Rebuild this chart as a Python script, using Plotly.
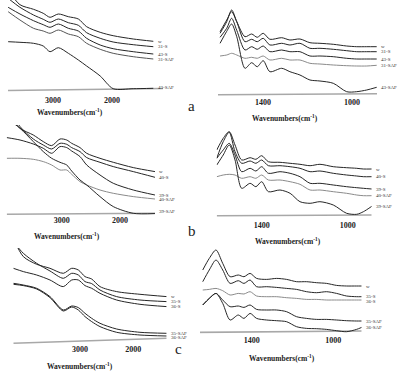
import plotly.graph_objects as go

W, H = 400, 373

# ---------------- data ----------------
# heights are in arbitrary absorbance units above each panel's baseline

# Panel a, C-H region
wn_a1 = [3760, 3560, 3330, 3165, 3050, 2910, 2740, 2570, 2430, 2200, 1980, 1640, 1300]
a1_w      = [100, 85.3, 80.7, 76.7, 72.7, 76, 73.3, 71, 63.3, 57.7, 54.3, 51, 48.7]
a1_31S    = [91.7, 82.7, 75, 70.7, 67.7, 71, 67.3, 64.7, 57.3, 51.7, 48, 45.3, 43.3]
a1_43S    = [82.7, 76, 69.3, 65.3, 62.7, 66, 61.7, 59, 51.7, 45, 41.3, 38.3, 36]
a1_31SAF  = [78.3, 70, 61.7, 59, 56.7, 60, 56, 53.3, 46.7, 40.7, 36.7, 33.3, 31]
a1_43SAF  = [48.3, 47.7, 46.7, 44, 38.3, 42.3, 36.7, 30, 24, 14, 1.3, 1.3, 1.7]
a1_base   = [-0.5, 1.5]

# Panel a, fingerprint region
wn_a2 = [1593, 1563, 1541, 1518, 1481, 1451, 1426, 1399, 1369, 1316, 1279, 1234, 1189, 1144, 1084, 1024, 979, 934, 889]
a2_w      = [62.6, 74.3, 82.6, 72.6, 57.6, 60.3, 57, 61, 55, 56.6, 54.3, 55.3, 51.6, 51, 50, 48.3, 47.6, 47.6, 47.6]
a2_31S    = [61, 72.6, 84.3, 72.6, 52.6, 55, 52.6, 56, 49.3, 51, 49.3, 51, 46, 46, 45, 43.6, 42.6, 42.6, 42.6]
a2_43S    = [57, 66, 76, 64, 44.3, 47.6, 45, 48.3, 42.6, 44.3, 42.6, 42.6, 38.3, 38.3, 37.6, 36, 35.3, 35.3, 35.3]
a2_31SAF  = [38.3, 39.3, 41, 39.3, 36, 37, 36, 38.3, 34.3, 36, 34.3, 34.3, 31, 30.3, 29.3, 28.6, 28.3, 28.3, 29]
a2_43SAF  = [51, 63, 70.3, 57.6, 26, 31.6, 27.6, 33.6, 22.6, 26, 22.6, 19.3, 14.3, 13.3, 11, 2.6, 2.6, 4.3, 7]
a2_base   = [-0.5, 0.5]

# Panel b, C-H region
wn_b1 = [3943, 3715, 3487, 3316, 3172, 3029, 2914, 2829, 2686, 2571, 2343, 2115, 1772, 1400]
b1_w      = [102.7, 86, 79.3, 72.7, 68.7, 75.3, 74.3, 71, 66.7, 61, 56, 52, 46.7, 42.7]
b1_40S    = [109, 87.7, 75.3, 69.3, 65.3, 71, 70, 66.7, 62.7, 56.7, 52, 47.7, 42.7, 37]
b1_39S    = [76.7, 74.3, 70.3, 66, 61, 67.7, 66.7, 63.3, 57.7, 49.3, 39.3, 31, 24.3, 19.3]
b1_40SAF  = [56, 56, 55, 52.7, 49.3, 44.3, 44.3, 40, 32.7, 29.3, 24.3, 21, 17.7, 15.3]
b1_39SAF  = [96, 86, 72.7, 62.7, 56, 52, 49.3, 43.3, 34.3, 29.3, 17.7, 7.7, 1, 0.7]
b1_base   = [0, 1]

# Panel b, fingerprint region
wn_b2 = [1609, 1579, 1551, 1524, 1493, 1454, 1427, 1400, 1369, 1315, 1268, 1222, 1175, 1129, 1067, 1005, 958, 927, 888]
b2_w      = [65, 76.7, 83.3, 70, 55, 57.3, 55.7, 59.3, 53.3, 52.7, 51.7, 50.7, 49.3, 50.7, 48.3, 47.3, 46.7, 46, 46]
b2_40S    = [56.7, 73.3, 82.7, 63.3, 51.7, 54, 51.7, 55, 49.3, 49.3, 48.3, 46.7, 43.3, 44, 41.7, 40, 39, 38.3, 38.3]
b2_39S    = [56.7, 65, 71.7, 60, 43.3, 46.7, 44, 48.3, 41.7, 43.3, 41.7, 38.3, 31.7, 31.7, 30, 28.3, 27.3, 26.7, 26]
b2_40SAF  = [38.3, 40, 40.7, 40, 36.7, 38.3, 36.7, 40, 35, 35, 33.3, 30.7, 25, 25, 23.3, 21.7, 20, 19.3, 19.3]
b2_39SAF  = [50, 60, 70, 55, 26.7, 31.7, 28.3, 33.3, 23.3, 25, 21.7, 13.3, 11.7, 13.3, 10, 1.7, 0.7, 3.3, 8.7]
b2_base   = [-0.7, 0]

# Panel c, C-H region
wn_c1 = [4250, 4063, 3813, 3563, 3313, 3156, 3031, 2906, 2781, 2625, 2313, 1875, 1375]
c1_w      = [105, 86.7, 79, 75, 70, 75, 73.3, 66.7, 64.3, 56.7, 51.7, 49, 46.7]
c1_35S    = [101.7, 90, 80, 72.3, 65, 70, 68.3, 61.7, 59.7, 53.3, 46.7, 43.3, 41.7]
c1_36S    = [75, 71.7, 68.3, 63.3, 56.7, 63.3, 63.3, 57.7, 55, 50, 43.3, 39, 36.7]
c1_35SAF  = [60, 58.3, 55, 46.7, 33.3, 37.3, 35.7, 30, 25, 20, 14.3, 11, 10]
c1_36SAF  = [59, 57.7, 54.3, 45.7, 32.3, 36.3, 33.3, 26.7, 21.7, 16.7, 11, 8.3, 7.3]
c1_base   = [0, 5]

# Panel c, fingerprint region
wn_c2 = [1640, 1608, 1575, 1542, 1506, 1466, 1438, 1408, 1376, 1327, 1278, 1229, 1180, 1131, 1082, 1033, 984, 935, 886, 861]
c2_w      = [61.7, 73.3, 81.7, 68.3, 55, 56.7, 55, 58.3, 53.3, 52.3, 53.3, 52.3, 50, 50, 49, 48.3, 46.3, 45.7, 45.7, 45.7]
c2_35S    = [50, 61.7, 71.7, 61.7, 48.3, 51, 48.3, 51.7, 45, 45, 44.3, 43.3, 42.3, 40, 39, 40, 38.3, 35.7, 35, 35]
c2_36S    = [41.7, 42.3, 43.3, 41, 36.7, 38.3, 37.7, 40, 35.7, 35, 35, 34, 33.3, 32.3, 32.3, 31.7, 31.7, 31.7, 31.7, 31.7]
c2_35SAF  = [26.7, 33.3, 38.3, 31.7, 25, 25.7, 24.3, 26.7, 22.3, 21.7, 21.7, 20, 15, 13.3, 12.3, 12.3, 11.7, 11, 10.7, 10.7]
c2_36SAF  = [26.7, 33.3, 38.3, 28.3, 11.7, 16.7, 13.3, 18.3, 13.3, 11.7, 11, 10, 5, 3.3, 3, 2.3, 1, 0, 2.3, 4.3]
c2_base   = [-0.7, 0.7]

ticks_ch = [3000, 2000]
ticks_fp = [1400, 1000]
xtitle = "Wavenumbers(cm<sup>-1</sup>)"

DARK = "#262626"
GRAY = "#8a8a8a"

# ---------------- panel layout (pixel geometry) ----------------
panels = [
    dict(wn=wn_a1, curves=[("w", a1_w, DARK), ("31-S", a1_31S, DARK), ("43-S", a1_43S, DARK),
                           ("31-SAF", a1_31SAF, "#555"), ("43-SAF", a1_43SAF, DARK)],
         base=a1_base, ticks=ticks_ch, tpx=(53, 112), xpx=(8, 163), base_py=90, top_py=0,
         tick_py=100, title=(70, 112)),
    dict(wn=wn_a2, curves=[("w", a2_w, DARK), ("31-S", a2_31S, DARK), ("43-S", a2_43S, DARK),
                           ("31-SAF", a2_31SAF, GRAY), ("43-SAF", a2_43SAF, DARK)],
         base=a2_base, ticks=ticks_fp, tpx=(263, 352), xpx=(218, 377), base_py=94.3, top_py=0,
         tick_py=102, title=(285, 118)),
    dict(wn=wn_b1, curves=[("w", b1_w, DARK), ("40-S", b1_40S, DARK), ("39-S", b1_39S, DARK),
                           ("40-SAF", b1_40SAF, GRAY), ("39-SAF", b1_39SAF, DARK)],
         base=b1_base, ticks=ticks_ch, tpx=(61.7, 120), xpx=(6.7, 155), base_py=214.3, top_py=125,
         tick_py=220, title=(67, 236)),
    dict(wn=wn_b2, curves=[("w", b2_w, DARK), ("40-S", b2_40S, DARK), ("39-S", b2_39S, DARK),
                           ("40-SAF", b2_40SAF, GRAY), ("39-SAF", b2_39SAF, DARK)],
         base=b2_base, ticks=ticks_fp, tpx=(261.7, 347.7), xpx=(216.7, 371.7), base_py=215, top_py=125,
         tick_py=225.5, title=(288, 241)),
    dict(wn=wn_c1, curves=[("w", c1_w, DARK), ("35-S", c1_35S, DARK), ("36-S", c1_36S, DARK),
                           ("35-SAF", c1_35SAF, DARK), ("36-SAF", c1_36SAF, DARK)],
         base=c1_base, ticks=ticks_ch, tpx=(80, 133.3), xpx=(13.3, 166.7), base_py=343.3, top_py=248,
         tick_py=349.5, title=(80, 366)),
    dict(wn=wn_c2, curves=[("w", c2_w, DARK), ("35-S", c2_35S, DARK), ("36-S", c2_36S, GRAY),
                           ("35-SAF", c2_35SAF, DARK), ("36-SAF", c2_36SAF, DARK)],
         base=c2_base, ticks=ticks_fp, tpx=(251.7, 333.3), xpx=(200, 361.7), base_py=331.7, top_py=248,
         tick_py=340, title=(282, 358)),
]

letters = [("a", 191, 106), ("b", 192, 231), ("c", 178, 349)]

fig = go.Figure()
annotations = []
PAD = 2          # room below baseline (data units == px)
LABEL_GAP = 4.5  # min vertical spacing of curve labels (px)

for i, p in enumerate(panels, start=1):
    xa = "x" if i == 1 else f"x{i}"
    ya = "y" if i == 1 else f"y{i}"
    (t1, t2), (p1, p2) = p["ticks"], p["tpx"]
    s = (t2 - t1) / (p2 - p1)
    xl, xr = p["xpx"]
    r0 = t1 + (xl - p1) * s
    r1 = t1 + (xr - p1) * s
    top_h = p["base_py"] - p["top_py"]

    fig.add_trace(go.Scatter(x=[r0, r1], y=p["base"], mode="lines",
                             line=dict(color="#a8a8a8", width=1.6),
                             xaxis=xa, yaxis=ya, showlegend=False, hoverinfo="skip"))
    lab = []
    for name, vals, col in p["curves"]:
        fig.add_trace(go.Scatter(x=p["wn"], y=vals, mode="lines", name=name,
                                 line=dict(color=col, width=1.0, shape="spline", smoothing=0.8),
                                 xaxis=xa, yaxis=ya, showlegend=False))
        end_px = xl + (p["wn"][-1] - r0) / (r1 - r0) * (xr - xl)
        lab.append([name, end_px + 2.5, max(vals[-1], 3)])
    # keep labels from overlapping (heights descend top->bottom)
    lab.sort(key=lambda t: -t[2])
    for k in range(1, len(lab)):
        if lab[k - 1][2] - lab[k][2] < LABEL_GAP:
            lab[k][2] = lab[k - 1][2] - LABEL_GAP
    for name, lx, ly in lab:
        annotations.append(dict(x=lx / W, xref="paper", y=ly, yref=ya,
                                text=name, showarrow=False, xanchor="left", yanchor="middle",
                                font=dict(family="Liberation Serif", size=5, color="#333")))

    dom_x = [xl / W, xr / W]
    dom_y = [1 - (p["base_py"] + PAD) / H, 1 - p["top_py"] / H]
    fig.update_layout({
        ("xaxis" if i == 1 else f"xaxis{i}"): dict(
            domain=dom_x, range=[r0, r1], anchor="free", position=1 - (p["tick_py"] - 8) / H,
            showgrid=False, zeroline=False,
            showline=False, tickvals=p["ticks"], ticktext=[str(t) for t in p["ticks"]],
            ticks="outside", ticklen=0, tickcolor="rgba(0,0,0,0)",
            tickfont=dict(family="Liberation Serif", size=8, color="#222", weight="bold")),
        ("yaxis" if i == 1 else f"yaxis{i}"): dict(
            domain=dom_y, range=[-PAD, top_h], anchor=xa, visible=False, fixedrange=True),
    })
    tx, ty = p["title"]
    annotations.append(dict(x=tx / W, y=1 - ty / H, xref="paper", yref="paper", text=xtitle,
                            showarrow=False, xanchor="center", yanchor="middle",
                            font=dict(family="Liberation Serif", size=7.5, color="#222", weight="bold")))

for t, x, y in letters:
    annotations.append(dict(x=x / W, y=1 - y / H, xref="paper", yref="paper", text=t,
                            showarrow=False, xanchor="center", yanchor="middle",
                            font=dict(family="Liberation Serif", size=15, color="#222")))

fig.update_layout(width=W, height=H, margin=dict(l=0, r=0, t=0, b=0),
                  paper_bgcolor="white", plot_bgcolor="white", annotations=annotations)

fig.write_html("out.html", config={"displayModeBar": False},
               post_script="document.body.style.margin='0';document.body.style.padding='0';")
